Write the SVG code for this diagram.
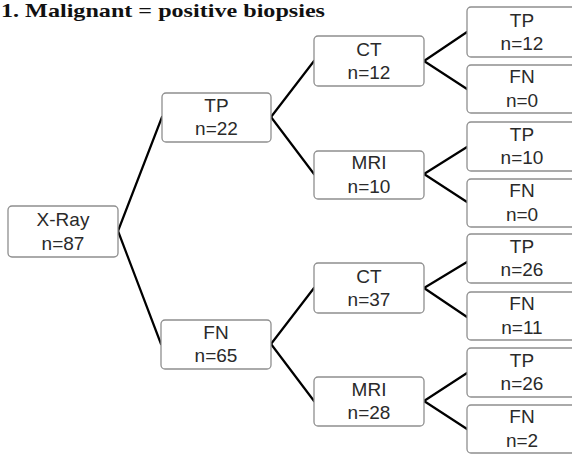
<svg xmlns="http://www.w3.org/2000/svg" width="572" height="454" viewBox="0 0 572 454">
<style>
.box{fill:#fff;stroke:#8f8f8f;stroke-width:1.3}
.lbl{font-family:"Liberation Sans",Arial,sans-serif;font-size:19px;fill:#2a2a2a;text-anchor:middle}
.title{font-family:"Liberation Serif","Times New Roman",serif;font-weight:bold;font-size:19px;fill:#111}
.conn line{stroke:#000;stroke-width:2.2;stroke-linecap:round}
</style>
<rect width="572" height="454" fill="#fff"/>
<text class="title" x="1" y="17" textLength="324" lengthAdjust="spacingAndGlyphs">1. Malignant = positive biopsies</text>
<g class="conn" id="connectors">
<line x1="118" y1="231" x2="162" y2="117"/>
<line x1="118" y1="231" x2="161" y2="344"/>
<line x1="271" y1="117" x2="314" y2="61"/>
<line x1="271" y1="117" x2="314" y2="174"/>
<line x1="271" y1="344" x2="314" y2="288"/>
<line x1="271" y1="344" x2="314" y2="401"/>
<line x1="424" y1="61" x2="467" y2="32"/>
<line x1="424" y1="61" x2="467" y2="89"/>
<line x1="424" y1="174" x2="467" y2="147"/>
<line x1="424" y1="174" x2="467" y2="202"/>
<line x1="424" y1="288" x2="467" y2="262"/>
<line x1="424" y1="288" x2="467" y2="317"/>
<line x1="424" y1="401" x2="467" y2="373"/>
<line x1="424" y1="401" x2="467" y2="429"/>
</g>
<g id="xray"><rect class="box" x="8" y="206" width="110" height="51" rx="4"/><text class="lbl" x="63" y="226">X-Ray</text><text class="lbl" x="63" y="249.5">n=87</text></g>
<g id="tp22"><rect class="box" x="162" y="93" width="109" height="49" rx="4"/><text class="lbl" x="216.5" y="112">TP</text><text class="lbl" x="216.5" y="135">n=22</text></g>
<g id="fn65"><rect class="box" x="161" y="320" width="110" height="49" rx="4"/><text class="lbl" x="216" y="339">FN</text><text class="lbl" x="216" y="362">n=65</text></g>
<g id="ct12"><rect class="box" x="314" y="36" width="110" height="50" rx="4"/><text class="lbl" x="369" y="55.5">CT</text><text class="lbl" x="369" y="78.5">n=12</text></g>
<g id="mri10"><rect class="box" x="314" y="151" width="110" height="48" rx="4"/><text class="lbl" x="369" y="169">MRI</text><text class="lbl" x="369" y="192.5">n=10</text></g>
<g id="ct37"><rect class="box" x="314" y="263" width="110" height="50" rx="4"/><text class="lbl" x="369" y="282.5">CT</text><text class="lbl" x="369" y="305.5">n=37</text></g>
<g id="mri28"><rect class="box" x="314" y="377" width="110" height="49" rx="4"/><text class="lbl" x="369" y="395.5">MRI</text><text class="lbl" x="369" y="419">n=28</text></g>
<g id="tp12"><rect class="box" x="467" y="7" width="110" height="50" rx="4"/><text class="lbl" x="522" y="26.5">TP</text><text class="lbl" x="522" y="49.5">n=12</text></g>
<g id="fn0a"><rect class="box" x="467" y="65" width="110" height="48" rx="4"/><text class="lbl" x="522" y="83">FN</text><text class="lbl" x="522" y="106.5">n=0</text></g>
<g id="tp10"><rect class="box" x="467" y="122" width="110" height="49" rx="4"/><text class="lbl" x="522" y="140.5">TP</text><text class="lbl" x="522" y="164">n=10</text></g>
<g id="fn0b"><rect class="box" x="467" y="179" width="110" height="48" rx="4"/><text class="lbl" x="522" y="197">FN</text><text class="lbl" x="522" y="220.5">n=0</text></g>
<g id="tp26a"><rect class="box" x="467" y="234" width="110" height="49" rx="4"/><text class="lbl" x="522" y="252.5">TP</text><text class="lbl" x="522" y="276">n=26</text></g>
<g id="fn11"><rect class="box" x="467" y="292" width="110" height="48" rx="4"/><text class="lbl" x="522" y="310">FN</text><text class="lbl" x="522" y="333.5">n=11</text></g>
<g id="tp26b"><rect class="box" x="467" y="348" width="110" height="49" rx="4"/><text class="lbl" x="522" y="366.5">TP</text><text class="lbl" x="522" y="390">n=26</text></g>
<g id="fn2"><rect class="box" x="467" y="405" width="110" height="48" rx="4"/><text class="lbl" x="522" y="423">FN</text><text class="lbl" x="522" y="446.5">n=2</text></g>
</svg>
